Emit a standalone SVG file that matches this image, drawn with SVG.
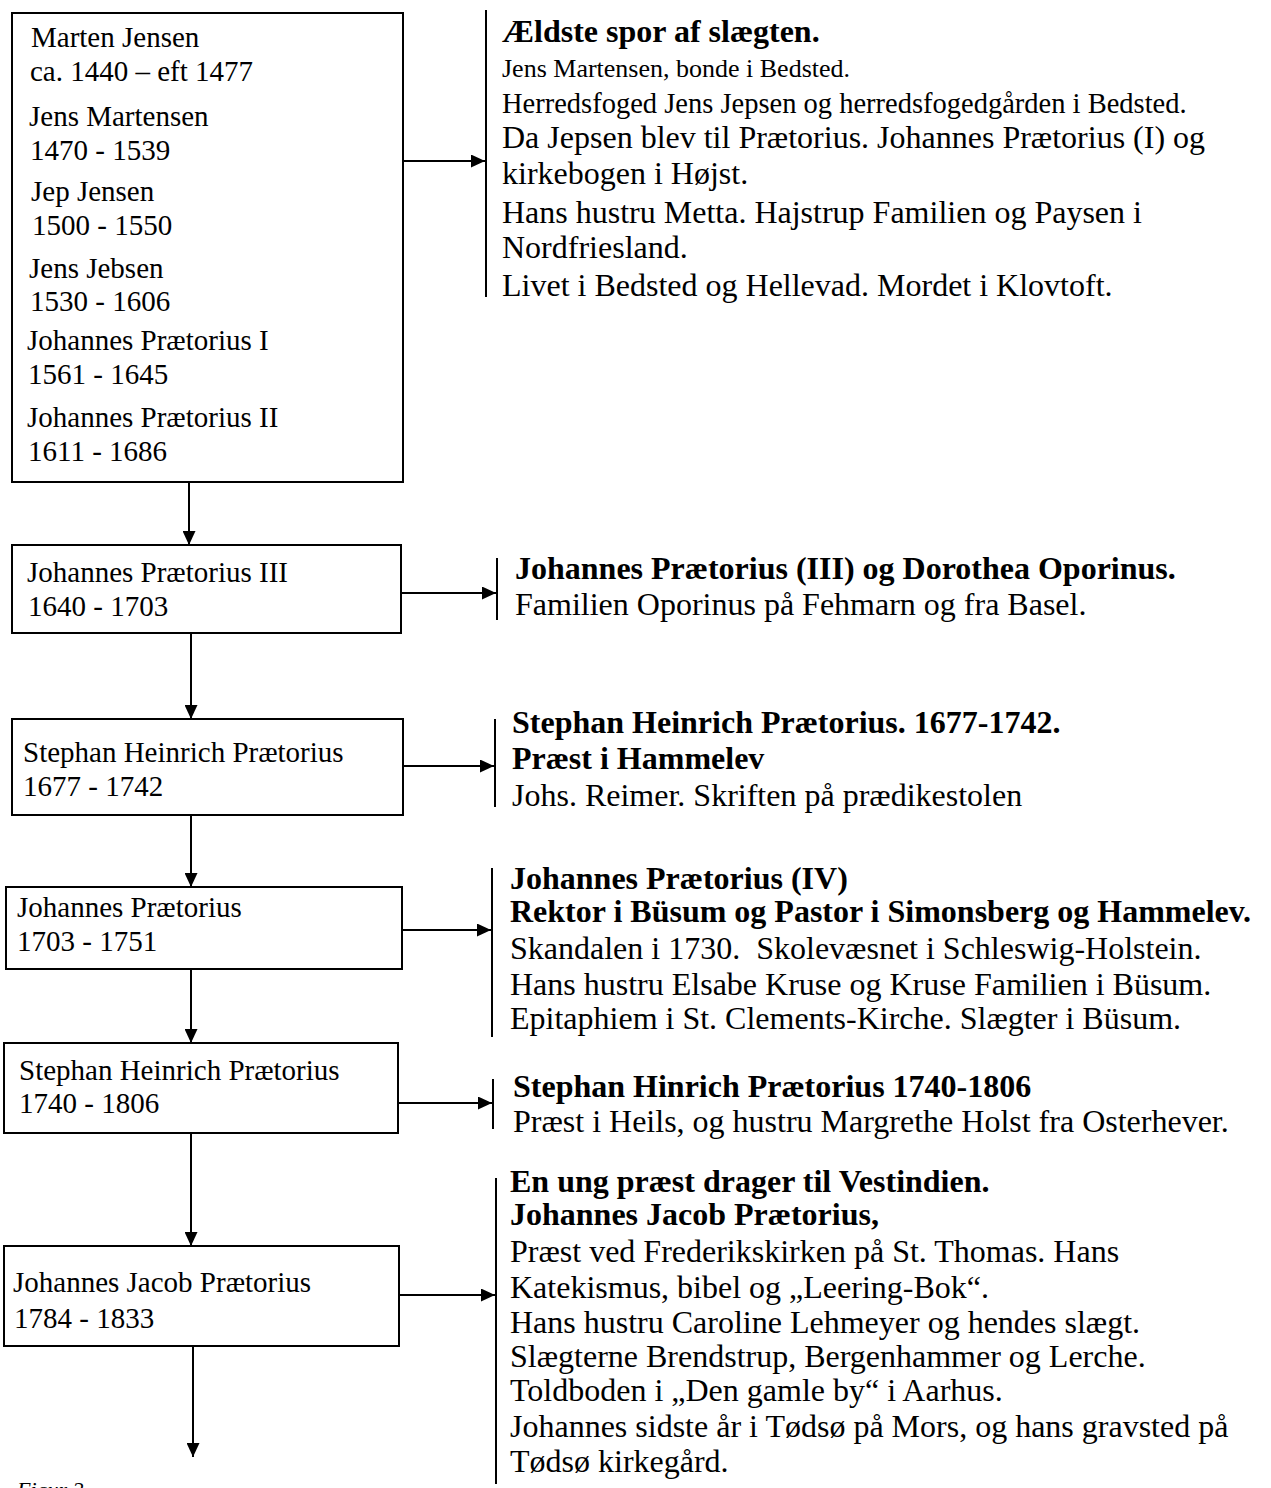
<svg xmlns="http://www.w3.org/2000/svg" width="1271" height="1488" viewBox="0 0 1271 1488">
<style>
.box{fill:#fff;stroke:#000;stroke-width:2}
.l{font-family:"Liberation Serif","Times New Roman",serif;font-size:29px;fill:#000}
.r{font-family:"Liberation Serif","Times New Roman",serif;font-size:32px;fill:#000}
.b{font-weight:bold}
.c{stroke:#000;stroke-width:2;fill:none}
.fig{font-family:"Liberation Serif","Times New Roman",serif;font-size:22px;font-style:italic;fill:#000}
</style>
<defs>
<marker id="ah" viewBox="0 0 14 13" markerWidth="14" markerHeight="13" refX="14" refY="6.5" orient="auto" markerUnits="userSpaceOnUse"><path d="M0,0 L14,6.5 L0,13 z" fill="#000"/></marker>
</defs>
<rect width="1271" height="1488" fill="#fff"/>
<g id="connectors">
<line class="c" x1="189" y1="482" x2="189" y2="545" marker-end="url(#ah)"/>
<line class="c" x1="191" y1="633" x2="191" y2="719" marker-end="url(#ah)"/>
<line class="c" x1="191" y1="815" x2="191" y2="887" marker-end="url(#ah)"/>
<line class="c" x1="191" y1="969" x2="191" y2="1043" marker-end="url(#ah)"/>
<line class="c" x1="191" y1="1133" x2="191" y2="1246" marker-end="url(#ah)"/>
<line class="c" x1="193" y1="1346" x2="193" y2="1457" marker-end="url(#ah)"/>
<line class="c" x1="403" y1="161" x2="485" y2="161" marker-end="url(#ah)"/>
<line class="c" x1="401" y1="593" x2="496" y2="593" marker-end="url(#ah)"/>
<line class="c" x1="403" y1="766" x2="494" y2="766" marker-end="url(#ah)"/>
<line class="c" x1="402" y1="930" x2="491" y2="930" marker-end="url(#ah)"/>
<line class="c" x1="398" y1="1103" x2="492" y2="1103" marker-end="url(#ah)"/>
<line class="c" x1="399" y1="1295" x2="495" y2="1295" marker-end="url(#ah)"/>
<line class="c" x1="486" y1="10" x2="486" y2="297"/>
<line class="c" x1="497" y1="558" x2="497" y2="620"/>
<line class="c" x1="495" y1="719" x2="495" y2="807"/>
<line class="c" x1="492" y1="868" x2="492" y2="1037"/>
<line class="c" x1="493" y1="1079" x2="493" y2="1129"/>
<line class="c" x1="496" y1="1178" x2="496" y2="1484"/>
</g>
<g id="node1">
<rect class="box" x="12" y="13" width="391" height="469"/>
<text class="l" x="31" y="47">Marten Jensen</text>
<text class="l" x="30" y="81">ca. 1440 – eft 1477</text>
<text class="l" x="29" y="126">Jens Martensen</text>
<text class="l" x="30" y="160">1470 - 1539</text>
<text class="l" x="31" y="201">Jep Jensen</text>
<text class="l" x="32" y="235">1500 - 1550</text>
<text class="l" x="29" y="278">Jens Jebsen</text>
<text class="l" x="30" y="311">1530 - 1606</text>
<text class="l" x="27" y="350">Johannes Prætorius I</text>
<text class="l" x="28" y="384">1561 - 1645</text>
<text class="l" x="27" y="427">Johannes Prætorius II</text>
<text class="l" x="28" y="461">1611 - 1686</text>
</g>
<g id="node2">
<rect class="box" x="12" y="545" width="389" height="88"/>
<text class="l" x="27" y="582">Johannes Prætorius III</text>
<text class="l" x="28" y="616">1640 - 1703</text>
</g>
<g id="node3">
<rect class="box" x="12" y="719" width="391" height="96"/>
<text class="l" x="23" y="762">Stephan Heinrich Prætorius</text>
<text class="l" x="23" y="796">1677 - 1742</text>
</g>
<g id="node4">
<rect class="box" x="6" y="887" width="396" height="82"/>
<text class="l" x="17" y="917">Johannes Prætorius</text>
<text class="l" x="17" y="951">1703 - 1751</text>
</g>
<g id="node5">
<rect class="box" x="4" y="1043" width="394" height="90"/>
<text class="l" x="19" y="1080">Stephan Heinrich Prætorius</text>
<text class="l" x="19" y="1113">1740 - 1806</text>
</g>
<g id="node6">
<rect class="box" x="4" y="1246" width="395" height="100"/>
<text class="l" x="13" y="1292">Johannes Jacob Prætorius</text>
<text class="l" x="14" y="1328">1784 - 1833</text>
</g>
<g id="text1">
<text class="r b" x="502" y="42">Ældste spor af slægten.</text>
<text class="r" x="502" y="77" style="font-size:26px">Jens Martensen, bonde i Bedsted.</text>
<text class="r" x="502" y="113" style="font-size:28.5px">Herredsfoged Jens Jepsen og herredsfogedgården i Bedsted.</text>
<text class="r" x="502" y="148">Da Jepsen blev til Prætorius. Johannes Prætorius (I) og</text>
<text class="r" x="502" y="184">kirkebogen i Højst.</text>
<text class="r" x="502" y="223">Hans hustru Metta. Hajstrup Familien og Paysen i</text>
<text class="r" x="502" y="258">Nordfriesland.</text>
<text class="r" x="502" y="296">Livet i Bedsted og Hellevad. Mordet i Klovtoft.</text>
</g>
<g id="text2">
<text class="r b" x="515" y="579">Johannes Prætorius (III) og Dorothea Oporinus.</text>
<text class="r" x="515" y="615">Familien Oporinus på Fehmarn og fra Basel.</text>
</g>
<g id="text3">
<text class="r b" x="512" y="733">Stephan Heinrich Prætorius. 1677-1742.</text>
<text class="r b" x="512" y="769">Præst i Hammelev</text>
<text class="r" x="512" y="806">Johs. Reimer. Skriften på prædikestolen</text>
</g>
<g id="text4">
<text class="r b" x="510" y="889">Johannes Prætorius (IV)</text>
<text class="r b" x="510" y="922">Rektor i Büsum og Pastor i Simonsberg og Hammelev.</text>
<text class="r" x="510" y="959" xml:space="preserve">Skandalen i 1730.  Skolevæsnet i Schleswig-Holstein.</text>
<text class="r" x="510" y="995">Hans hustru Elsabe Kruse og Kruse Familien i Büsum.</text>
<text class="r" x="510" y="1029">Epitaphiem i St. Clements-Kirche. Slægter i Büsum.</text>
</g>
<g id="text5">
<text class="r b" x="513" y="1097">Stephan Hinrich Prætorius 1740-1806</text>
<text class="r" x="513" y="1132">Præst i Heils, og hustru Margrethe Holst fra Osterhever.</text>
</g>
<g id="text6">
<text class="r b" x="510" y="1192">En ung præst drager til Vestindien.</text>
<text class="r b" x="510" y="1225">Johannes Jacob Prætorius,</text>
<text class="r" x="510" y="1262">Præst ved Frederikskirken på St. Thomas. Hans</text>
<text class="r" x="510" y="1298">Katekismus, bibel og „Leering-Bok“.</text>
<text class="r" x="510" y="1333">Hans hustru Caroline Lehmeyer og hendes slægt.</text>
<text class="r" x="510" y="1367">Slægterne Brendstrup, Bergenhammer og Lerche.</text>
<text class="r" x="510" y="1401">Toldboden i „Den gamle by“ i Aarhus.</text>
<text class="r" x="510" y="1437">Johannes sidste år i Tødsø på Mors, og hans gravsted på</text>
<text class="r" x="510" y="1472">Tødsø kirkegård.</text>
</g>
<text class="fig" x="17" y="1497">Figur 2</text>
</svg>
